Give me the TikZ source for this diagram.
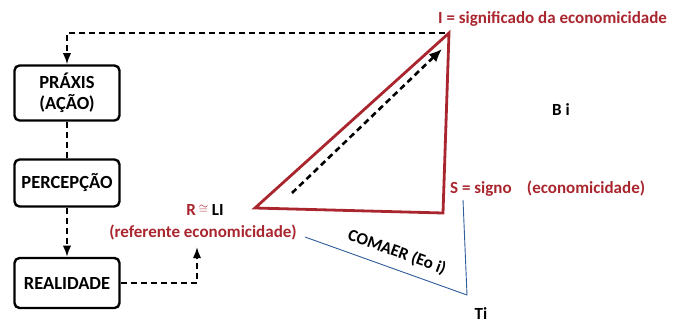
\documentclass[tikz,border=0pt]{standalone}
\usepackage{fontspec}
\setmainfont{Carlito}
\usepackage{xcolor}
\usepackage{tikz}
\usetikzlibrary{arrows.meta,positioning,calc}
\definecolor{semred}{HTML}{A9262F}
\definecolor{semblue}{HTML}{2F5C9A}

\begin{document}
\begin{tikzpicture}[
    x=1pt, y=-1pt,
    >=Latex,
    font=\bfseries\fontsize{17}{19}\selectfont,
    box/.style={draw=black, line width=2.4pt, rounded corners=5pt, fill=white, align=center, minimum width=105pt, minimum height=50pt, inner sep=2pt, font=\bfseries\fontsize{18.5}{21}\selectfont},
    dashline/.style={dashed, line width=1.8pt, dash pattern=on 6pt off 4pt},
    redlabel/.style={text=semred, inner sep=1pt},
    blklabel/.style={text=black, inner sep=1pt},
    tri/.style={draw=semred, line width=2.8pt, line join=miter},
    blueline/.style={draw=semblue, line width=0.9pt}
]
\useasboundingbox (0,0) rectangle (684,324);

% left column
\node[box, minimum height=55pt] (praxis) at (67,93) {PRÁXIS\\(AÇÃO)};
\node[box, minimum height=47pt] (percep) at (67,183) {PERCEPÇÃO};
\node[box] (real) at (67,283) {REALIDADE};

% triangle vertices
\coordinate (I) at (449,33);
\coordinate (R) at (255,208);
\coordinate (S) at (443,213);
\draw[tri] (I) -- (R) -- (S) -- cycle;

% labels
\node[redlabel, anchor=west] (ilab) at (437,19) {I = significado da economicidade};
\node[blklabel] (bi) at (561,110) {B i};
\node[redlabel, anchor=west] (slab) at (449,189) {S = signo\hspace{0.9em}(economicidade)};
\node[blklabel] (rlab) at (205,210) {\textcolor{semred}{R\,\raisebox{0.3ex}{$\scriptstyle\cong$}}\ LI};
\node[redlabel] (ref) at (203,232) {(referente economicidade)};
\node[blklabel, rotate=-20] (comaer) at (397,252) {COMAER (Eo i)};
\node[blklabel] (ti) at (481,314) {Ti};

% blue connectors
\coordinate (tc) at (467,295);
\coordinate (refend) at (305,237);
\coordinate (send) at (463,200);
\draw[blueline] (refend) -- (tc) -- (send);

% dashed connectors
\coordinate (itop) at (445,33);
\coordinate (refin) at (197,247);
\coordinate (a0) at (292,193);
\coordinate (a1) at (442,49);
\draw[dashline, ->] (itop) -| (praxis.north);
\draw[dashline] (praxis.south) -- (percep.north);
\draw[dashline, ->] (percep.south) -- (real.north);
\draw[dashline, ->] (real.east) -| (refin);
\draw[dashline, -{Latex[length=13pt,width=11pt]}, line width=2.6pt] (a0) -- (a1);
\end{tikzpicture}
\end{document}
